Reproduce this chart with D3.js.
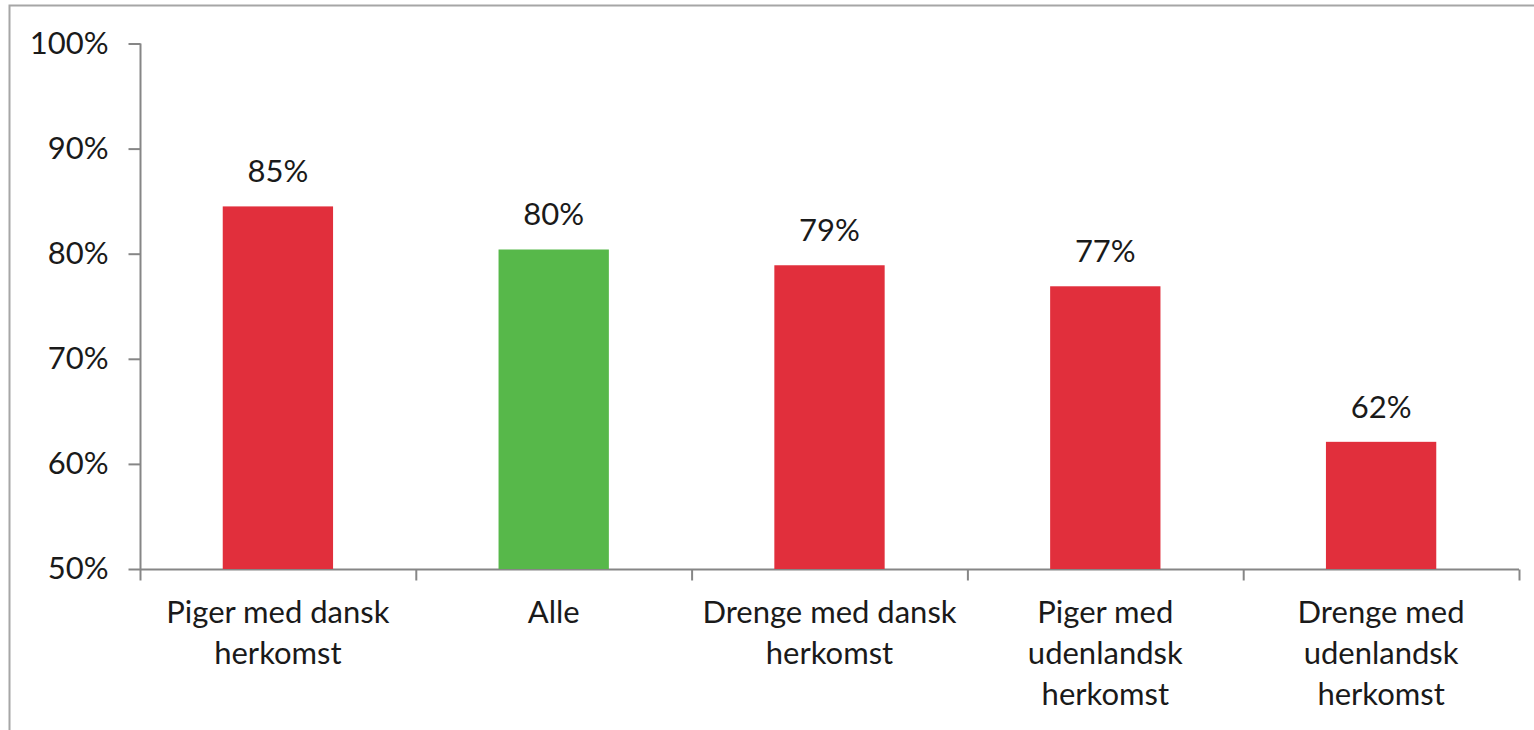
<!DOCTYPE html>
<html lang="da">
<head>
<meta charset="UTF-8">
<script src="https://d3js.org/d3.v7.min.js"></script>
<style>
  body { margin: 0; background: #fff; }
  svg text { font-family: Lato, "Open Sans", sans-serif; fill: #1a1a1a; }
</style>
</head>
<body>
<svg id="svg" width="1534" height="730"></svg>
<script>
// data
var categories = [
  ["Piger med dansk", "herkomst"],
  ["Alle"],
  ["Drenge med dansk", "herkomst"],
  ["Piger med", "udenlandsk", "herkomst"],
  ["Drenge med", "udenlandsk", "herkomst"]
];
var values = [84.5, 80.4, 78.9, 76.9, 62.1];
var valueLabels = ["85%", "80%", "79%", "77%", "62%"];
var barColors = ["#e12f3c", "#57b84a", "#e12f3c", "#e12f3c", "#e12f3c"];
var yTicks = [50, 60, 70, 80, 90, 100];

var fontSize = 31;
var svg = d3.select("#svg");

// outer frame (runs off the right and bottom)
svg.append("rect")
  .attr("x", 9.5).attr("y", 5.5)
  .attr("width", 1540).attr("height", 760)
  .attr("fill", "none")
  .attr("stroke", "#a6a6a6")
  .attr("stroke-width", 2);

var x = d3.scaleBand()
  .domain(d3.range(categories.length))
  .range([140, 1519])
  .paddingInner(0.6)
  .paddingOuter(0.3);

var xEdges = d3.scaleLinear().domain([0, categories.length]).range([140, 1519]);

var y = d3.scaleLinear().domain([50, 100]).range([569, 43.5]);

// y axis
var yAxis = svg.append("g")
  .attr("transform", "translate(140.5,0)")
  .call(d3.axisLeft(y).tickValues(yTicks).tickSize(12).tickPadding(20)
    .tickFormat(d => d + "%"));
yAxis.selectAll("line, path").attr("stroke", "#868686").attr("stroke-width", 2);
yAxis.select(".domain").attr("d", "M0," + y(100) + "V" + y(50));
yAxis.selectAll("text").attr("font-size", fontSize).attr("fill", "#1a1a1a")
  .style("font-family", "Lato, sans-serif");

// x axis line and category boundary ticks
var xAxis = svg.append("g").attr("transform", "translate(0," + (y(50) + 0.5) + ")");
xAxis.append("line")
  .attr("x1", xEdges(0)).attr("x2", xEdges(categories.length))
  .attr("stroke", "#868686").attr("stroke-width", 2);
xAxis.selectAll(".edge")
  .data(d3.range(categories.length + 1))
  .enter().append("line")
  .attr("class", "edge")
  .attr("x1", d => xEdges(d) + 0.5).attr("x2", d => xEdges(d) + 0.5)
  .attr("y1", 0).attr("y2", 11)
  .attr("stroke", "#868686").attr("stroke-width", 2);

// bars
svg.selectAll(".bar")
  .data(values)
  .enter().append("rect")
  .attr("class", "bar")
  .attr("x", (d, i) => x(i))
  .attr("width", x.bandwidth())
  .attr("y", d => y(d))
  .attr("height", d => y(50) - y(d))
  .attr("fill", (d, i) => barColors[i]);

// value labels
svg.selectAll(".vlabel")
  .data(values)
  .enter().append("text")
  .attr("class", "vlabel")
  .attr("x", (d, i) => x(i) + x.bandwidth() / 2)
  .attr("y", d => y(d) - 24)
  .attr("text-anchor", "middle")
  .attr("font-size", fontSize)
  .text((d, i) => valueLabels[i]);

// category labels
var cat = svg.selectAll(".clabel")
  .data(categories)
  .enter().append("text")
  .attr("class", "clabel")
  .attr("text-anchor", "middle")
  .attr("font-size", fontSize)
  .attr("transform", (d, i) => "translate(" + (x(i) + x.bandwidth() / 2) + ",623)");
cat.selectAll("tspan")
  .data(d => d)
  .enter().append("tspan")
  .attr("x", 0)
  .attr("y", (d, j) => j * 41)
  .text(d => d);
</script>
</body>
</html>
